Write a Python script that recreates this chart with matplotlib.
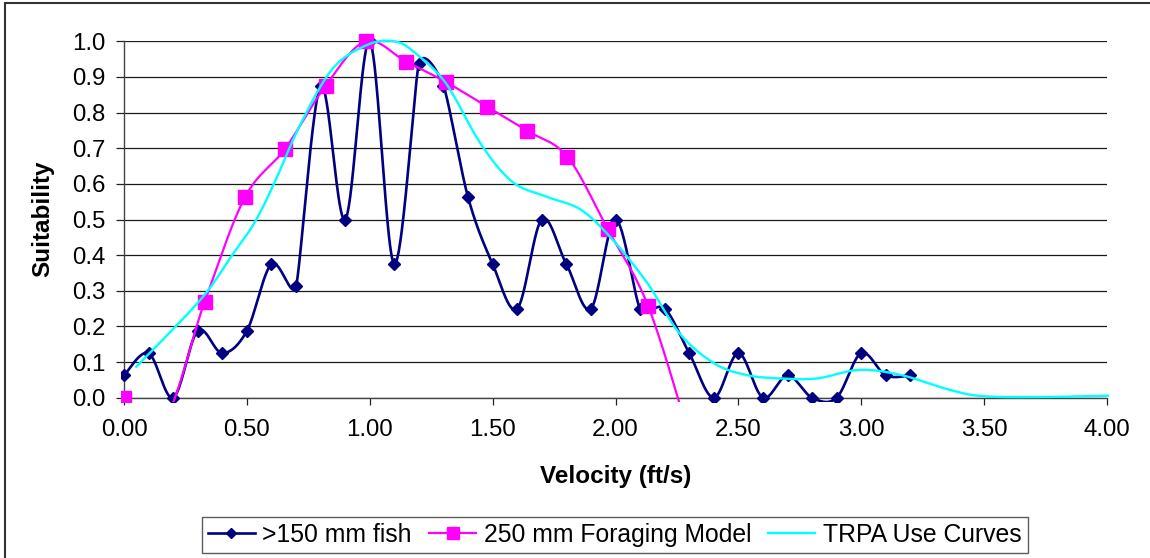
import numpy as np
import matplotlib
matplotlib.use("Agg")
import matplotlib.pyplot as plt
from matplotlib.patches import Rectangle
from matplotlib.lines import Line2D
from matplotlib.ticker import FormatStrFormatter

plt.rcParams['font.family'] = ['Liberation Sans', 'DejaVu Sans']

# >150 mm fish: observed suitability at 0.1 ft/s intervals
fish_velocity = [0.0, 0.1, 0.2, 0.3, 0.4, 0.5, 0.6, 0.7, 0.8, 0.9, 1.0, 1.1,
                 1.2, 1.3, 1.4, 1.5, 1.6, 1.7, 1.8, 1.9, 2.0, 2.1, 2.2, 2.3,
                 2.4, 2.5, 2.6, 2.7, 2.8, 2.9, 3.0, 3.1, 3.2]
fish_suitability = [0.0625, 0.125, 0.0, 0.1875, 0.125, 0.1875, 0.375, 0.3125,
                    0.875, 0.5, 1.0, 0.375, 0.9375, 0.875, 0.5625, 0.375, 0.25,
                    0.5, 0.375, 0.25, 0.5, 0.25, 0.25, 0.125, 0.0, 0.125, 0.0,
                    0.0625, 0.0, 0.0, 0.125, 0.0625, 0.0625]

# 250 mm foraging model, evaluated every 0.05 m/s (0.164 ft/s)
forage_velocity = [0.0, 0.164, 0.328, 0.492, 0.656, 0.820, 0.984, 1.148,
                   1.312, 1.476, 1.640, 1.804, 1.969, 2.133, 2.297]
forage_suitability = [0.0, -0.06, 0.269, 0.562, 0.699, 0.875, 1.0, 0.943,
                      0.885, 0.817, 0.749, 0.676, 0.472, 0.257, -0.10]

# TRPA use curve
trpa_velocity = [0.05, 0.31, 0.44, 0.53, 0.61, 0.72, 0.85, 0.99, 1.10, 1.18,
                 1.31, 1.45, 1.58, 1.72, 1.86, 1.99, 2.13, 2.26, 2.40, 2.53,
                 2.67, 2.82, 2.99, 3.16, 3.36, 3.50, 3.75, 4.02]
trpa_suitability = [0.087, 0.274, 0.40, 0.49, 0.60, 0.77, 0.924, 0.99, 1.0,
                    0.97, 0.882, 0.714, 0.606, 0.564, 0.527, 0.442, 0.321,
                    0.181, 0.097, 0.064, 0.054, 0.054, 0.078, 0.064, 0.022,
                    0.004, 0.002, 0.006]

series_labels = [">150 mm fish", "250 mm Foraging Model", "TRPA Use Curves"]
x_ticks = [0.0, 0.5, 1.0, 1.5, 2.0, 2.5, 3.0, 3.5, 4.0]
y_ticks = [0.0, 0.1, 0.2, 0.3, 0.4, 0.5, 0.6, 0.7, 0.8, 0.9, 1.0]

W, H = 1150, 558
AX_LEFT, AX_TOP, AX_W, AX_H = 124, 41.3, 983, 356.4
X_MAX, Y_MAX = 4.0, 1.0


def smooth_curve(xs, ys, steps=40):
    """Spreadsheet-style smoothed line: Bezier segments through every point,
    with the tangent shortened where neighbouring segments are short
    (distances measured in screen pixels)."""
    sx, sy = AX_W / X_MAX, AX_H / Y_MAX
    p = np.column_stack([np.asarray(xs) * sx, np.asarray(ys) * sy])
    n = len(p)
    ext = np.vstack([p[0], p, p[-1]])
    tang = np.zeros_like(p)
    for i in range(n):
        p0, p1, p2 = ext[i], ext[i + 1], ext[i + 2]
        d02 = np.hypot(*(p2 - p0))
        d01 = np.hypot(*(p1 - p0))
        d12 = np.hypot(*(p2 - p1))
        f = 1.0 / 6.0
        if d02 > 0:
            short = min(d01, d12) if min(d01, d12) > 0 else max(d01, d12)
            if d02 / 6.0 >= short / 2.0:
                f = short / (2.0 * d02)
        tang[i] = f * (p2 - p0)
    t = np.linspace(0, 1, steps + 1)[1:, None]
    parts = [p[:1]]
    for i in range(n - 1):
        p1, p2 = p[i], p[i + 1]
        b1 = p1 + tang[i]
        b2 = p2 - tang[i + 1]
        parts.append((1 - t) ** 3 * p1 + 3 * (1 - t) ** 2 * t * b1
                     + 3 * (1 - t) * t ** 2 * b2 + t ** 3 * p2)
    c = np.vstack(parts)
    return c[:, 0] / sx, c[:, 1] / sy, list(range(0, len(c), steps))


fig = plt.figure(figsize=(W / 100, H / 100), dpi=100)
ax = fig.add_axes([AX_LEFT / W, 1 - (AX_TOP + AX_H) / H, AX_W / W, AX_H / H])

clip = Rectangle((-0.003, -0.013), 1.012, 1.04, transform=ax.transAxes,
                 facecolor='none', edgecolor='none')

fish_style = dict(color='#000080', lw=1.9, marker='D', markersize=6.2,
                  markerfacecolor='#000080', markeredgecolor='#000080')
forage_style = dict(color='#FF00FF', lw=1.6, marker='s', markersize=9.5,
                    markerfacecolor='#FF00FF', markeredgecolor='#FF00FF')
trpa_style = dict(color='#00FFFF', lw=1.7)

fx, fy, fm = smooth_curve(fish_velocity, fish_suitability)
l1, = ax.plot(fx, fy, markevery=fm, zorder=3, **fish_style)

gx, gy, gm = smooth_curve(forage_velocity, forage_suitability)
l2, = ax.plot(gx, gy, markevery=gm, zorder=4, **forage_style)

tx, ty, _ = smooth_curve(trpa_velocity, trpa_suitability)
l3, = ax.plot(tx, ty, zorder=5, **trpa_style)

for ln in (l1, l2, l3):
    ln.set_clip_path(clip)

ax.set_xlim(0, X_MAX)
ax.set_ylim(0, Y_MAX)
ax.set_xticks(x_ticks)
ax.set_yticks(y_ticks)
ax.xaxis.set_major_formatter(FormatStrFormatter('%.2f'))
ax.yaxis.set_major_formatter(FormatStrFormatter('%.1f'))
ax.grid(axis='y', color='#1a1a1a', lw=0.9, zorder=1)
ax.set_axisbelow(True)
for side in ('top', 'right'):
    ax.spines[side].set_visible(False)
for side in ('left', 'bottom'):
    ax.spines[side].set_color('#444444')
    ax.spines[side].set_linewidth(1.0)
ax.tick_params(axis='x', direction='out', length=5, width=0.9,
               color='#222222', labelsize=17.3, pad=10.5)
ax.tick_params(axis='y', direction='out', length=5.5, width=0.9,
               color='#222222', labelsize=17.3, pad=8)

fig.text(615.5 / W, 1 - 477 / H, "Velocity (ft/s)", ha='center', va='center',
         fontsize=17.5, fontweight='bold')
fig.text(43 / W, 1 - 219 / H, "Suitability", ha='center', va='center',
         rotation=90, fontsize=17.5, fontweight='bold')

legend_fish = dict(fish_style, markersize=5.2)
legend_forage = dict(forage_style, markersize=8.5)
handles = [Line2D([], [], **legend_fish), Line2D([], [], **legend_forage),
           Line2D([], [], **trpa_style)]
leg = fig.legend(handles=handles, labels=series_labels, ncol=3, numpoints=1,
                 loc='center', bbox_to_anchor=(614.7 / W, 1 - 534.7 / H),
                 fontsize=17.8, frameon=True, fancybox=False, shadow=False,
                 handlelength=1.9, handletextpad=0.3, columnspacing=0.7,
                 borderpad=0.25, borderaxespad=0)
leg.get_frame().set_edgecolor('#333333')
leg.get_frame().set_linewidth(1.0)

fig.patches.append(Rectangle((5 / W, -0.05), 1.1, 1.05 - 2.5 / H,
                             transform=fig.transFigure, fill=False,
                             edgecolor='#333333', lw=1.5))

fig.savefig("out.png", dpi=100)
